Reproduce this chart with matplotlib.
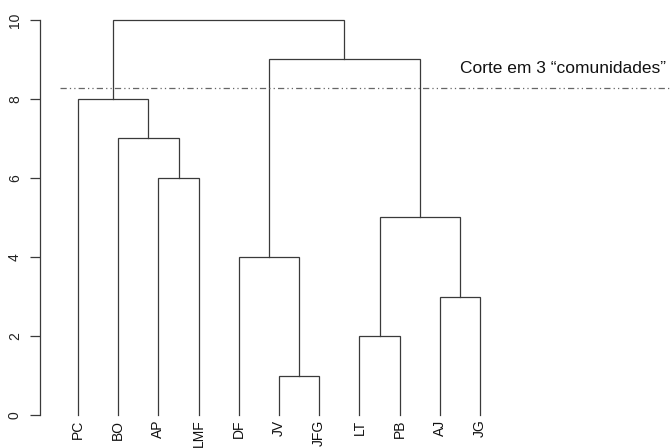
import matplotlib
matplotlib.use("Agg")
import matplotlib.pyplot as plt

plt.rcParams['font.family'] = ['Liberation Sans', 'DejaVu Sans']

labels = ["PC", "BO", "AP", "LMF", "DF", "JV", "JFG", "LT", "PB", "AJ", "JG"]
# merges: (child_a, child_b, height); child is a leaf label or index of an earlier merge
merges = [
    ("JV", "JFG", 1),
    ("LT", "PB", 2),
    ("AJ", "JG", 3),
    ("DF", 0, 4),
    (1, 2, 5),
    ("AP", "LMF", 6),
    ("BO", 5, 7),
    ("PC", 6, 8),
    (3, 4, 9),
    (7, 8, 10),
]
cut_height = 8.28
cut_label = "Corte em 3 \u201ccomunidades\u201d"
yticks = [0, 2, 4, 6, 8, 10]

W, H = 671, 448
fig = plt.figure(figsize=(W / 100, H / 100), dpi=100)
ax_left_px, ax_bottom_px, ax_top_px = 40, 33, 428
ax = fig.add_axes([ax_left_px / W, ax_bottom_px / H, 1 - ax_left_px / W, (ax_top_px - ax_bottom_px) / H])
leaf_px0, leaf_step = 78, 40.2
x_lo = 1 - (leaf_px0 - ax_left_px) / leaf_step
x_hi = 1 + (W - leaf_px0) / leaf_step
ax.set_xlim(x_lo, x_hi)
ax.set_ylim(0, 10)

line_col = "#3a3a3a"
leaf_x = {lab: i + 1 for i, lab in enumerate(labels)}
centers = []

def pos(c):
    if isinstance(c, str):
        return leaf_x[c], 0.0
    return centers[c], merges[c][2]

for a, b, h in merges:
    xa, ha = pos(a)
    xb, hb = pos(b)
    ax.plot([xa, xa, xb, xb], [ha, h, h, hb], color=line_col, lw=0.9, clip_on=False,
            solid_joinstyle='miter')
    centers.append((xa + xb) / 2)

# cut line
ax.axhline(cut_height, xmin=0.032, xmax=1,
           color="#666666", lw=0.9, linestyle=(0, (5, 2.5, 1, 2.5, 1, 2.5)), clip_on=False)
ax.text(x_hi - 0.12, cut_height + 0.3, cut_label, ha="right", va="bottom", fontsize=12.5,
        color="#111111")

# leaf labels
for lab in labels:
    ax.text(leaf_x[lab], -0.12, lab, rotation=90, ha="center", va="top", fontsize=10,
            color="#111111", clip_on=False)

ax.set_xticks([])
ax.set_yticks(yticks)
ax.set_yticklabels([str(t) for t in yticks], rotation=90, va="center", fontsize=10, color="#222222")
ax.tick_params(axis="y", length=7, width=0.9, color=line_col, pad=6)
for s in ["top", "right", "bottom"]:
    ax.spines[s].set_visible(False)
ax.spines["left"].set_color(line_col)
ax.spines["left"].set_linewidth(0.9)
ax.patch.set_visible(False)

fig.savefig("out.png", dpi=100)
